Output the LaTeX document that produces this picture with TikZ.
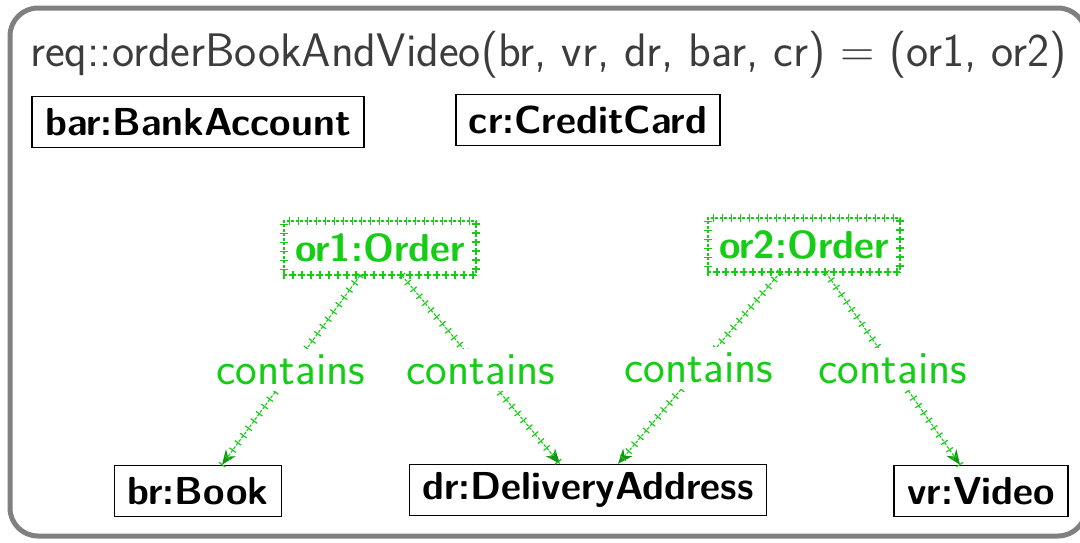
\documentclass[tikz,border=0pt]{standalone}
\usetikzlibrary{arrows.meta,decorations.pathreplacing}
\definecolor{objgreen}{RGB}{20,205,20}
\definecolor{tipgreen}{RGB}{20,150,20}
\definecolor{framegray}{RGB}{128,128,128}
\definecolor{titlegray}{RGB}{60,60,60}
\tikzset{
  obj/.style={draw=black, line width=1.4pt, fill=white, inner xsep=13pt,
    minimum height=51pt, font=\sffamily\bfseries\fontsize{39}{45}\selectfont},
  ticked/.style={postaction={draw=objgreen, solid, line width=1.2pt, arrows=-, decorate,
      decoration={ticks, segment length=9pt, amplitude=4pt}}},
  newobj/.style={draw=objgreen, line width=1.2pt, dash pattern=on 3pt off 1.5pt,
    ticked, text=objgreen, inner xsep=11pt, minimum height=54pt,
    font=\sffamily\bfseries\fontsize{39}{45}\selectfont},
  link/.style={draw=objgreen, line width=1.1pt, dash pattern=on 3pt off 1.5pt, ticked,
    -{Stealth[length=15pt,width=12pt,fill=tipgreen,color=tipgreen]}},
  role/.style={fill=white, text=objgreen, inner sep=6pt,
    font=\sffamily\fontsize{46}{52}\selectfont}
}
\begin{document}
\begin{tikzpicture}[x=1pt,y=-1pt]
  \useasboundingbox (0,0) rectangle (1080,542);
  % outer frame of the requirement
  \draw[framegray, line width=5pt, rounded corners=28pt] (10,8) rectangle (1086,536);
  \node[anchor=base west, text=titlegray, inner sep=0pt,
        font=\sffamily\fontsize{47}{54}\selectfont] (title) at (30,66)
    {req::orderBookAndVideo(br, vr, dr, bar, cr) = (or1, or2)};

  % existing objects
  \node[obj] (bar) at (198,122) {bar:BankAccount};
  \node[obj] (cr)  at (588,120) {cr:CreditCard};
  \node[obj] (br)  at (198,491) {br:Book};
  \node[obj] (dr)  at (588,490) {dr:DeliveryAddress};
  \node[obj] (vr)  at (981,491) {vr:Video};

  % objects created by the operation
  \node[newobj] (or1) at (380,248) {or1:Order};
  \node[newobj] (or2) at (804,245) {or2:Order};

  % contains links
  \draw[link] ([xshift=-20pt]or1.south) -- node[role] {contains} ([xshift=24pt]br.north);
  \draw[link] ([xshift=22pt]or1.south)  -- node[role] {contains} ([xshift=-28pt]dr.north);
  \draw[link] ([xshift=-24pt]or2.south) -- node[role] {contains} ([xshift=30pt]dr.north);
  \draw[link] ([xshift=22pt]or2.south)  -- node[role] {contains} ([xshift=-21pt]vr.north);
\end{tikzpicture}
\end{document}
